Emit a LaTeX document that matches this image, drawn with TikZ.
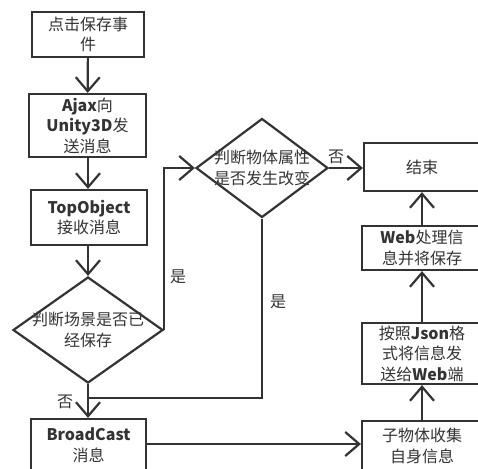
\documentclass[tikz,border=0pt]{standalone}
\usepackage{fontspec}
\setmainfont{Noto Sans CJK SC}
\usetikzlibrary{arrows.meta,shapes.geometric}
\definecolor{ink}{HTML}{333333}
\definecolor{txt}{HTML}{333333}
\tikzset{
  box/.style={draw=ink, line width=2.2pt, rectangle, inner sep=0pt, align=center, text=txt, font=\fontsize{16}{20.5}\selectfont},
  dia/.style={draw=ink, line width=2.2pt, diamond, inner sep=0pt},
  flow/.style={draw=ink, line width=2.2pt, -{Straight Barb[length=14pt,width=24pt,line width=2.2pt]}},
  plain/.style={draw=ink, line width=2.2pt},
  lab/.style={text=txt, font=\fontsize{16}{20.5}\selectfont, inner sep=0pt}
}
\begin{document}
\begin{tikzpicture}[x=1pt,y=-1pt]
\useasboundingbox (0,0) rectangle (478,468);
\clip (0,0) rectangle (478,468);
\fill[white] (0,0) rectangle (478,468);
\node[box, minimum width=112pt, minimum height=45pt] (b1) at (88,34.5) {点击保存事\\件};
\node[box, minimum width=117pt, minimum height=63pt] (b2) at (87.5,125.5) {\textbf{Ajax}向\\\textbf{Unity3D}发\\送消息};
\node[box, minimum width=116pt, minimum height=55pt] (b3) at (89,217.5) {\textbf{TopObject}\\接收消息};
\node[dia, minimum width=150pt, minimum height=106pt,
  label={[lab, align=center]center:判断场景是否已\\经保存}] (d1) at (88,330) {};
\node[dia, minimum width=132pt, minimum height=99pt,
  label={[lab, align=center]center:判断物体属性\\是否发生改变}] (d2) at (262,168) {};
\node[box, minimum width=116pt, minimum height=48pt] (end) at (422,167) {结束};
\node[box, minimum width=120pt, minimum height=44pt] (web) at (422,248) {\textbf{Web}处理信\\息并将保存};
\node[box, minimum width=120pt, minimum height=61pt] (json) at (422,353.5) {按照\textbf{Json}格\\式将信息发\\送给\textbf{Web}端};
\node[box, minimum width=120pt, minimum height=50pt] (child) at (422,446) {子物体收集\\自身信息};
\node[box, minimum width=115pt, minimum height=52pt] (bc) at (88.5,445) {\textbf{BroadCast}\\消息};
\coordinate (j) at (88,398);
\draw[flow] (b1) -- (b2);
\draw[flow] (b2.south -| b1.south) -- (b3.north -| b1.south);
\draw[flow] (b3.south -| d1.north) -- (d1.north);
\draw[flow] (d1.east) |- (d2.west);
\draw[flow] (d2.east) -- (end.west |- d2.east);
\draw[plain] (d2.south) |- (j);
\draw[flow] (d1.south) -- (bc.north -| d1.south);
\draw[flow] (bc.east |- 0,444) -- (child.west |- 0,444);
\draw[flow] (child.north) -- (json.south);
\draw[flow] (json.north) -- (web.south);
\draw[flow] (web.north) -- (end.south);
\node[lab] (l1) at (178,277) {是};
\node[lab] (l2) at (336,157) {否};
\node[lab] (l3) at (278,302) {是};
\node[lab] (l4) at (65,402) {否};
\end{tikzpicture}
\end{document}
